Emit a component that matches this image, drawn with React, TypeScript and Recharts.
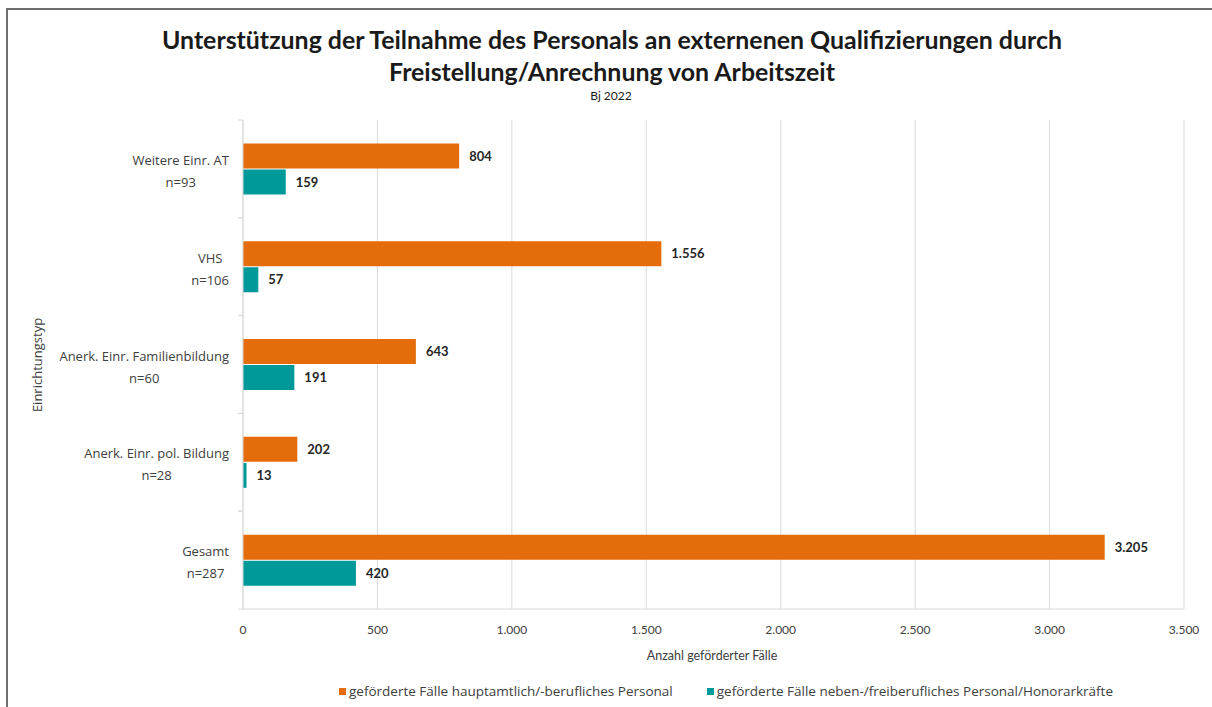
import React from "react";
import { BarChart, Bar, XAxis, YAxis, CartesianGrid, LabelList, Legend } from "recharts";

const categories = ["Weitere Einr. AT", "VHS", "Anerk. Einr. Familienbildung", "Anerk. Einr. pol. Bildung", "Gesamt"];
const nLabels = ["n=93", "n=106", "n=60", "n=28", "n=287"];
const hauptamtlich = [804, 1556, 643, 202, 3205];
const nebenberuflich = [159, 57, 191, 13, 420];
const xTicks = [0, 500, 1000, 1500, 2000, 2500, 3000, 3500];

const seriesNames = [
  "geförderte Fälle hauptamtlich/-berufliches Personal",
  "geförderte Fälle neben-/freiberufliches Personal/Honorarkräfte",
];
const colors = ["#E46C0A", "#009999"];

const data = categories.map((c, i) => ({
  name: c,
  n: nLabels[i],
  haupt: hauptamtlich[i],
  neben: nebenberuflich[i],
}));

const FONT = "Lato, 'Open Sans', sans-serif";
const FONT2 = "'Open Sans', Lato, sans-serif";

const de = (v: any) => String(v).replace(/\B(?=(\d{3})+(?!\d))/g, ".");

let ctx: CanvasRenderingContext2D | null = null;
const measure = (t: string, font: string) => {
  if (!ctx) ctx = document.createElement("canvas").getContext("2d");
  if (!ctx) return t.length * 6;
  ctx.font = font;
  return ctx.measureText(t).width;
};

const YTick = (props: any) => {
  const { x, y, payload, index } = props;
  const l1 = payload.value as string;
  const l2 = nLabels[index] ?? "";
  const f = `13px ${FONT2}`;
  const w = Math.max(measure(l1, f), measure(l2, f));
  const cx = x - 6 - w / 2;
  const off = payload.offset ?? 49;
  return (
    <g>
      <text x={cx} y={y - 9} textAnchor="middle" dominantBaseline="central" fontFamily={FONT2} fontSize={13} fill="#404040">
        {l1}
      </text>
      <text x={cx} y={y + 13} textAnchor="middle" dominantBaseline="central" fontFamily={FONT2} fontSize={13} fill="#404040">
        {l2}
      </text>
      <line x1={x + 8} x2={x + 3} y1={y - off} y2={y - off} stroke="#d9d9d9" />
      <line x1={x + 8} x2={x + 3} y1={y + off} y2={y + off} stroke="#d9d9d9" />
    </g>
  );
};

const LegendContent = () => (
  <div style={{ display: "flex", justifyContent: "center", gap: 34, fontFamily: FONT2, fontSize: 13.5, color: "#404040", paddingLeft: 240 }}>
    {seriesNames.map((s, i) => (
      <div key={s} style={{ display: "flex", alignItems: "center" }}>
        <span style={{ display: "inline-block", width: 7, height: 7, background: colors[i], marginRight: 3 }} />
        <span>{s}</span>
      </div>
    ))}
  </div>
);

export default function App() {
  return (
    <div style={{ position: "absolute", left: 0, top: 0, width: 1212, height: 707, background: "#fff", overflow: "hidden" }}>
      <div style={{ position: "absolute", left: 6, top: 8, width: 1206, height: 699, borderTop: "2px solid #6e6e6e", borderLeft: "2px solid #6e6e6e" }} />
      <div style={{ position: "absolute", left: 0, width: 1224, top: 23, textAlign: "center", fontFamily: FONT, fontWeight: 700, fontSize: 24.9, color: "#1a1a1a", lineHeight: "32px" }}>
        Unterstützung der Teilnahme des Personals an externenen Qualifizierungen durch
        <br />
        Freistellung/Anrechnung von Arbeitszeit
      </div>
      <div style={{ position: "absolute", left: 0, width: 1222, top: 88, textAlign: "center", fontFamily: FONT, fontSize: 12, color: "#1a1a1a" }}>
        Bj 2022
      </div>
      <div style={{ position: "absolute", left: 37, top: 365, transform: "translate(-50%,-50%) rotate(-90deg)", fontFamily: FONT2, fontSize: 13, color: "#404040", whiteSpace: "nowrap" }}>
        Einrichtungstyp
      </div>
      <div style={{ position: "absolute", left: 0, width: 1424, top: 648, textAlign: "center", fontFamily: FONT, fontSize: 12.5, color: "#404040" }}>
        Anzahl geförderter Fälle
      </div>
      <div style={{ position: "absolute", left: 0, top: 0 }}>
        <BarChart
          width={1212}
          height={707}
          data={data}
          layout="vertical"
          margin={{ top: 120, right: 28, bottom: 50, left: 20 }}
          barCategoryGap="24%"
          barGap={1}
        >
          <CartesianGrid horizontal={false} stroke="#d9d9d9" />
          <XAxis
            type="number"
            domain={[0, 3500]}
            ticks={xTicks}
            tickFormatter={de}
            tickLine={false}
            axisLine={{ stroke: "#d9d9d9" }}
            tick={{ fontFamily: FONT, fontSize: 12, fill: "#404040" }}
            tickMargin={10}
            height={30}
            interval={0}
          />
          <YAxis
            type="category"
            dataKey="name"
            width={223}
            tick={<YTick />}
            tickLine={false}
            axisLine={{ stroke: "#d9d9d9" }}
            interval={0}
          />
          <Legend verticalAlign="bottom" content={<LegendContent />} wrapperStyle={{ bottom: 7, left: 0, width: 1212 }} />
          <Bar dataKey="haupt" name={seriesNames[0]} fill={colors[0]} isAnimationActive={false}>
            <LabelList dataKey="haupt" position="right" offset={10} formatter={de} style={{ fontFamily: FONT, fontSize: 13, fontWeight: 700, fill: "#262626" }} />
          </Bar>
          <Bar dataKey="neben" name={seriesNames[1]} fill={colors[1]} isAnimationActive={false}>
            <LabelList dataKey="neben" position="right" offset={10} formatter={de} style={{ fontFamily: FONT, fontSize: 13, fontWeight: 700, fill: "#262626" }} />
          </Bar>
        </BarChart>
      </div>
    </div>
  );
}
